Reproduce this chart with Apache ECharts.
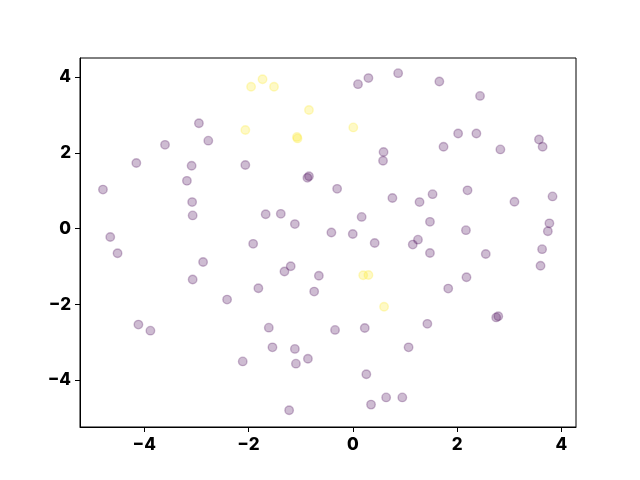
<!DOCTYPE html>
<html>
<head>
<meta charset="utf-8">
<script src="https://cdn.jsdelivr.net/npm/echarts@6/dist/echarts.min.js"></script>
<style>html,body{margin:0;padding:0;background:#fff;}#c{width:640px;height:480px;}</style>
</head>
<body>
<div id="c"></div>
<script>
// class 0 (dark purple)
const purpleX = [-2.95,-2.77,-3.60,-4.15,-3.09,-2.06,-3.18,-4.79,0.10,0.30,0.87,0.59,0.58,-0.84,-0.87,-0.30,1.66,2.44,2.02,2.37,1.74,2.83,3.57,3.64,2.20,-3.08,-3.07,-4.65,-4.51,-2.87,-3.07,-2.41,-1.91,0.76,-1.67,-1.38,-1.11,0.17,-0.41,0.00,0.42,-1.19,-1.31,-0.65,-1.81,-0.74,1.15,1.53,1.28,3.10,3.83,1.48,2.17,3.77,3.74,1.25,1.48,2.55,3.63,3.60,2.18,1.83,-4.11,-3.88,-2.11,-1.61,-0.34,0.23,-1.54,-1.11,-1.09,-0.86,0.26,0.35,0.64,0.95,-1.22,1.07,1.43,2.75,2.79];
const purpleY = [2.78,2.32,2.21,1.73,1.66,1.68,1.26,1.03,3.81,3.97,4.10,2.02,1.79,1.38,1.34,1.05,3.88,3.50,2.51,2.51,2.16,2.09,2.35,2.16,1.01,0.70,0.35,-0.22,-0.65,-0.88,-1.34,-1.87,-0.40,0.81,0.38,0.39,0.12,0.31,-0.10,-0.14,-0.38,-0.99,-1.13,-1.24,-1.57,-1.66,-0.42,0.91,0.70,0.71,0.85,0.18,-0.04,0.14,-0.07,-0.29,-0.64,-0.67,-0.54,-0.98,-1.28,-1.58,-2.53,-2.69,-3.50,-2.61,-2.67,-2.62,-3.13,-3.17,-3.56,-3.43,-3.84,-4.64,-4.45,-4.45,-4.79,-3.13,-2.51,-2.34,-2.31];
// class 1 (yellow)
const yellowX = [-1.95,-1.73,-1.51,-0.84,-2.06,-1.07,-1.06,0.01,0.20,0.30,0.60];
const yellowY = [3.74,3.94,3.74,3.13,2.60,2.42,2.38,2.67,-1.23,-1.22,-2.06];
const xTicks = [-4,-2,0,2,4];
const yTicks = [-4,-2,0,2,4];

const pts = (xs, ys) => xs.map((x, i) => [x, ys[i]]);
const chart = echarts.init(document.getElementById('c'), null, {renderer: 'canvas'});
const labelStyle = {color: '#000', fontWeight: 800, fontSize: 17, fontFamily: 'Inter, Roboto, "Liberation Sans", Arial, sans-serif'};
const mkAxis = (min, max, ticks) => ({
  type: 'value', min: min, max: max,
  axisLine: {show: true, onZero: false, lineStyle: {color: '#000', width: 1}},
  axisTick: {show: true, length: 5, inside: false, lineStyle: {color: '#000', width: 1}, customValues: ticks},
  axisLabel: Object.assign({margin: 9, customValues: ticks, formatter: v => (v < 0 ? '\u2212' + Math.abs(v) : String(v))}, labelStyle),
  splitLine: {show: false}
});
chart.setOption({
  animation: false,
  backgroundColor: '#fff',
  grid: {left: 80, right: 64, top: 58, bottom: 53, show: true, borderColor: '#000', borderWidth: 1, containLabel: false},
  xAxis: mkAxis(-5.23, 4.28, xTicks),
  yAxis: mkAxis(-5.23, 4.50, yTicks),
  series: [
    {type: 'scatter', data: pts(purpleX, purpleY), symbolSize: 8.5,
     itemStyle: {color: 'rgba(68,1,84,0.33)', borderColor: 'rgba(68,1,84,0.33)', borderWidth: 1.4}},
    {type: 'scatter', data: pts(yellowX, yellowY), symbolSize: 8.5,
     itemStyle: {color: 'rgba(253,231,37,0.33)', borderColor: 'rgba(253,231,37,0.33)', borderWidth: 1.4}}
  ]
});
</script>
</body>
</html>
